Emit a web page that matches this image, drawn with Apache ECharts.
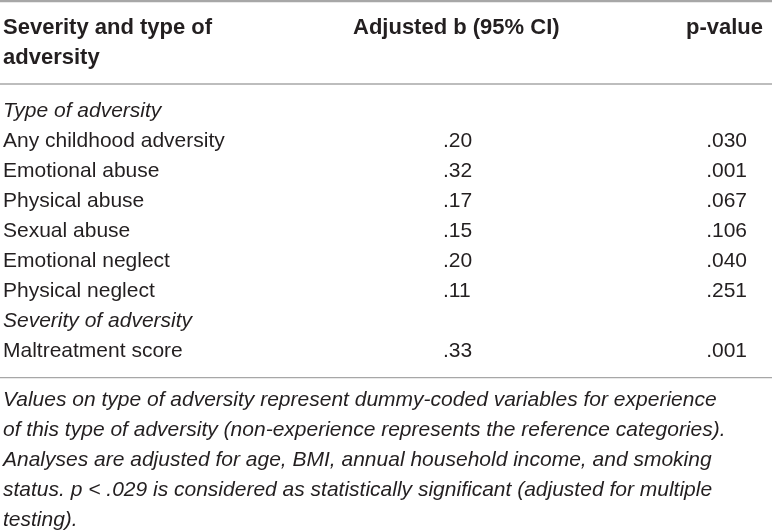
<!DOCTYPE html>
<html>
<head>
<meta charset="utf-8">
<script src="https://cdn.jsdelivr.net/npm/echarts@6/dist/echarts.min.js"></script>
<style>
html,body{margin:0;padding:0;background:#fff;}
#chart{width:772px;height:532px;}
</style>
</head>
<body>
<div id="chart"></div>
<script>
// ---- Table content ----
const headerCol1 = ["Severity and type of", "adversity"];
const headerCol2 = "Adjusted b (95% CI)";
const headerCol3 = "p-value";

const categories = [
  "Type of adversity",
  "Any childhood adversity",
  "Emotional abuse",
  "Physical abuse",
  "Sexual abuse",
  "Emotional neglect",
  "Physical neglect",
  "Severity of adversity",
  "Maltreatment score"
];
const rowKinds = ["section", "item", "item", "item", "item", "item", "item", "section", "item"];
const bValues = ["", ".20", ".32", ".17", ".15", ".20", ".11", "", ".33"];
const pValues = ["", ".030", ".001", ".067", ".106", ".040", ".251", "", ".001"];

const footnoteLines = [
  "Values on type of adversity represent dummy-coded variables for experience",
  "of this type of adversity (non-experience represents the reference categories).",
  "Analyses are adjusted for age, BMI, annual household income, and smoking",
  "status. p < .029 is considered as statistically significant (adjusted for multiple",
  "testing)."
];

// ---- Layout (row units on y axis, pixels on x axis) ----
const FONT = "'Liberation Sans', Arial, Helvetica, sans-serif";
const FS = 21;
const FS_HEAD = 22;
const TEXT = "#231f20";
const RULE = "#a7a7a7";
const colX = { label: 3, b: 443, p: 747, hb: 353, hp: 763 };
const headerRows = [-2.78, -1.78];
const footRowStart = 9.65;
const rules = [
  { row: -3.67, w: 2.5 },
  { row: -0.9, w: 1.3 },
  { row: 8.89, w: 1.3 }
];

const chart = echarts.init(document.getElementById('chart'), null, { renderer: 'canvas' });

function txt(x, y, s, opts) {
  return {
    type: 'text',
    style: Object.assign({
      x: x, y: y, text: s,
      fill: TEXT,
      font: 'normal ' + FS + 'px ' + FONT,
      textAlign: 'left',
      textVerticalAlign: 'middle'
    }, opts || {})
  };
}

const bodyData = categories.map((c, i) => [colX.label, i]);

const option = {
  animation: false,
  backgroundColor: '#ffffff',
  grid: { left: 0, right: 0, top: 0, bottom: 0 },
  xAxis: { type: 'value', min: 0, max: 772, show: false },
  yAxis: { type: 'value', min: -3.7, max: 14.033, inverse: true, show: false },
  series: [
    {
      // body rows
      type: 'custom',
      data: bodyData,
      renderItem: function (params, api) {
        const i = params.dataIndex;
        const pt = api.coord([api.value(0), api.value(1)]);
        const y = pt[1];
        const italic = rowKinds[i] === 'section';
        const children = [
          txt(pt[0], y, categories[i], { font: (italic ? 'italic ' : 'normal ') + FS + 'px ' + FONT })
        ];
        if (bValues[i]) children.push(txt(api.coord([colX.b, 0])[0], y, bValues[i]));
        if (pValues[i]) children.push(txt(api.coord([colX.p, 0])[0], y, pValues[i], { textAlign: 'right' }));
        return { type: 'group', children: children };
      }
    },
    {
      // header
      type: 'custom',
      data: headerCol1.map((h, i) => [colX.label, headerRows[i]]),
      renderItem: function (params, api) {
        const i = params.dataIndex;
        const pt = api.coord([api.value(0), api.value(1)]);
        const bold = 'bold ' + FS_HEAD + 'px ' + FONT;
        const children = [txt(pt[0], pt[1], headerCol1[i], { font: bold })];
        if (i === 0) {
          children.push(txt(api.coord([colX.hb, 0])[0], pt[1], headerCol2, { font: bold }));
          children.push(txt(api.coord([colX.hp, 0])[0], pt[1], headerCol3, { font: bold, textAlign: 'right' }));
        }
        return { type: 'group', children: children };
      }
    },
    {
      // footnote
      type: 'custom',
      data: footnoteLines.map((l, i) => [colX.label, footRowStart + i]),
      renderItem: function (params, api) {
        const pt = api.coord([api.value(0), api.value(1)]);
        return txt(pt[0], pt[1], footnoteLines[params.dataIndex], { font: 'italic ' + FS + 'px ' + FONT });
      }
    },
    {
      // horizontal rules
      type: 'custom',
      data: rules.map(r => [0, r.row, 772]),
      renderItem: function (params, api) {
        const a = api.coord([api.value(0), api.value(1)]);
        const b = api.coord([api.value(2), api.value(1)]);
        return {
          type: 'line',
          shape: { x1: a[0], y1: a[1], x2: b[0], y2: b[1] },
          style: { stroke: RULE, lineWidth: rules[params.dataIndex].w }
        };
      }
    }
  ]
};
chart.setOption(option);
</script>
</body>
</html>
